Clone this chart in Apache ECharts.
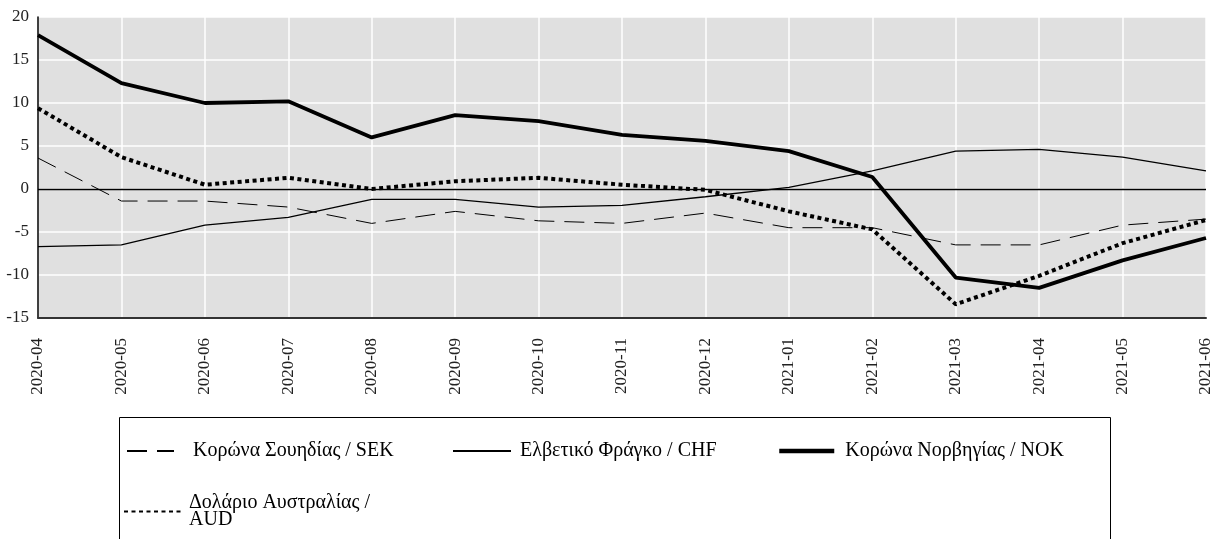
<!DOCTYPE html>
<html>
<head>
<meta charset="utf-8">
<script src="https://cdn.jsdelivr.net/npm/echarts@6/dist/echarts.min.js"></script>
<style>
	html, body { margin: 0; padding: 0; background: #fff; }
	#chart { width: 1217px; height: 539px; }
</style>
</head>
<body>
<div id="chart"></div>
<script>
	// μήνες
	var months = ['2020-04', '2020-05', '2020-06', '2020-07', '2020-08', '2020-09', '2020-10',
		'2020-11', '2020-12', '2021-01', '2021-02', '2021-03', '2021-04', '2021-05', '2021-06'];
	var sek = [3.6, -1.4, -1.4, -2.1, -4.0, -2.6, -3.7, -4.0, -2.8, -4.5, -4.5, -6.5, -6.5, -4.2, -3.5];
	var chf = [-6.7, -6.5, -4.2, -3.3, -1.2, -1.2, -2.1, -1.9, -0.9, 0.2, 2.1, 4.4, 4.6, 3.7, 2.1];
	var nok = [17.9, 12.3, 10.0, 10.2, 6.0, 8.6, 7.9, 6.3, 5.6, 4.4, 1.4, -10.3, -11.5, -8.3, -5.7];
	var aud = [9.4, 3.7, 0.5, 1.3, 0.0, 0.9, 1.3, 0.5, -0.1, -2.6, -4.7, -13.4, -10.1, -6.3, -3.6];
	var yTicks = { min: -15, max: 20, step: 5 };

	var names = ['Κορώνα Σουηδίας / SEK', 'Ελβετικό Φράγκο / CHF', 'Κορώνα Νορβηγίας / NOK',
		'Δολάριο Αυστραλίας /\nAUD'];

	var font = '"Liberation Serif", "DejaVu Serif", serif';
	var myChart = echarts.init(document.getElementById('chart'));

	// ένα legend για κάθε σειρά, ώστε να μπουν όπως στο πρωτότυπο
	function legendAt(name, left, top, w, pad, lh, lw) {
		var lg = {
			data: [name],
			left: left,
			top: top,
			padding: 0,
			itemWidth: w,
			itemHeight: 14,
			selectedMode: false,
			itemStyle: { color: 'rgba(0,0,0,0)', borderWidth: 0, opacity: 0 },
			textStyle: {
				fontFamily: font, fontSize: 20, color: '#000',
				lineHeight: lh, padding: [0, 0, 0, pad]
			}
		};
		if (lw) lg.lineStyle = { width: lw };
		return lg;
	}

	myChart.setOption({
		animation: false,
		grid: {
			left: 38, right: 11, top: 17, bottom: 221,
			show: true,
			backgroundColor: '#e0e0e0',
			borderWidth: 0
		},
		legend: [
			legendAt(names[0], 126, 440, 47, 14, 22),
			legendAt(names[1], 452, 440, 58, 4, 22),
			legendAt(names[2], 777, 440, 55, 6, 22, 4.5),
			legendAt(names[3], 123, 493, 60, 0, 17)
		],
		graphic: [{
			type: 'rect',
			left: 117, top: 415,
			shape: { width: 991, height: 140 },
			style: { fill: 'none', stroke: '#000', lineWidth: 1 },
			silent: true
		}],
		xAxis: {
			type: 'category',
			data: months,
			boundaryGap: false,
			axisLine: { onZero: false, lineStyle: { color: '#333', width: 2 } },
			axisTick: { show: false },
			splitLine: { show: true, lineStyle: { color: '#fff', width: 1.5 } },
			axisLabel: {
				rotate: 90,
				interval: 0,
				margin: 20,
				fontFamily: font,
				fontSize: 17,
				color: '#222'
			}
		},
		yAxis: {
			type: 'value',
			min: yTicks.min,
			max: yTicks.max,
			interval: yTicks.step,
			axisLine: { show: true, lineStyle: { color: '#000', width: 1.5 } },
			axisTick: { show: false },
			splitLine: { show: true, lineStyle: { color: '#fff', width: 1.5 } },
			axisLabel: { fontFamily: font, fontSize: 17, color: '#222', margin: 9 }
		},
		series: [{
			name: names[0],
			type: 'line',
			data: sek,
			symbol: 'none',
			lineStyle: { color: '#000', width: 1, type: [20, 10] },
			itemStyle: { color: '#000' },
			markLine: {
				silent: true,
				symbol: 'none',
				label: { show: false },
				lineStyle: { color: '#000', width: 1.3, type: 'solid' },
				data: [{ yAxis: 0 }]
			}
		}, {
			name: names[1],
			type: 'line',
			data: chf,
			symbol: 'none',
			lineStyle: { color: '#000', width: 1.3, type: 'solid' },
			itemStyle: { color: '#000' }
		}, {
			name: names[2],
			type: 'line',
			data: nok,
			symbol: 'none',
			lineStyle: { color: '#000', width: 3.8, type: 'solid' },
			itemStyle: { color: '#000' }
		}, {
			name: names[3],
			type: 'line',
			data: aud,
			symbol: 'none',
			lineStyle: { color: '#000', width: 4, type: [4, 3.5] },
			itemStyle: { color: '#000' }
		}]
	});
</script>
</body>
</html>
